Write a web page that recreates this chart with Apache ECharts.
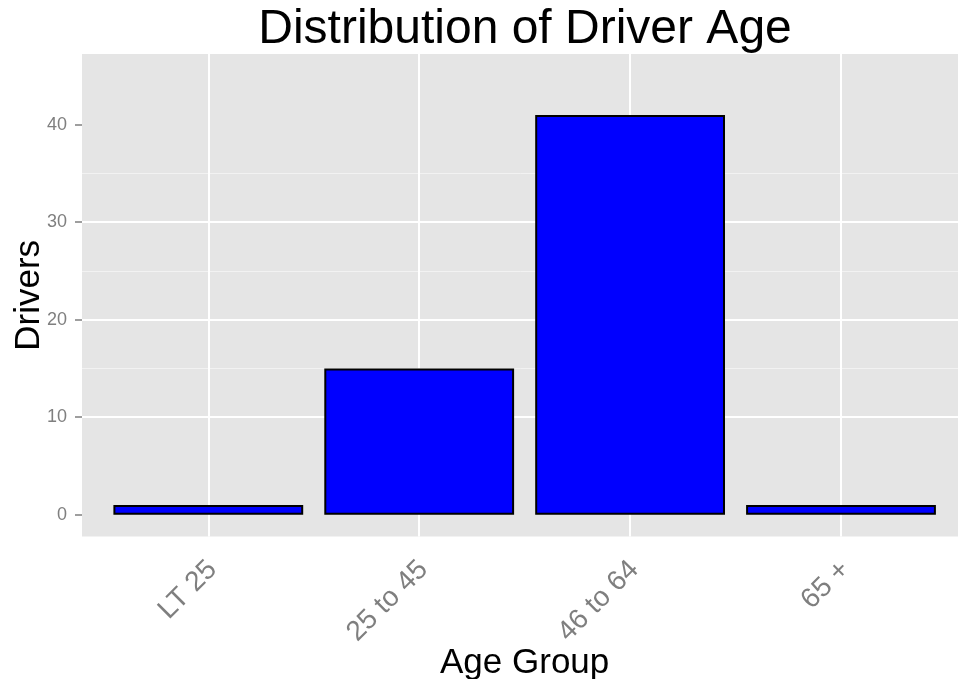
<!DOCTYPE html>
<html><head><meta charset="utf-8">
<script src="https://cdn.jsdelivr.net/npm/echarts@6/dist/echarts.min.js"></script>
<style>html,body{margin:0;padding:0;background:#fff}#c{width:958px;height:679px}</style>
</head><body><div id="c"></div>
<script>
const categories = ['LT 25', '25 to 45', '46 to 64', '65 +'];
const drivers = [1, 15, 41, 1];
const yMajorTicks = [0, 10, 20, 30, 40];
const yMinorTicks = [5, 15, 25, 35, 45];
const titleText = 'Distribution of Driver Age';
const xTitle = 'Age Group';
const yTitle = 'Drivers';

const FONT = "'Liberation Sans', Arial, sans-serif";
const Y_MIN = -2.25, Y_MAX = 47.25;
const chart = echarts.init(document.getElementById('c'), null, {renderer: 'canvas'});
chart.setOption({
  backgroundColor: '#ffffff',
  animation: false,
  textStyle: {fontFamily: FONT},
  graphic: [{
    type: 'text', x: 525, y: 6, z: 10,
    style: {text: titleText, fill: '#000', font: "48px 'Liberation Sans', Arial, sans-serif", textAlign: 'center', textVerticalAlign: 'top'}
  }],
  grid: [
    {left: 82, top: 54, width: 886, height: 482.6, show: true, backgroundColor: '#E5E5E5', borderWidth: 0, containLabel: false, outerBoundsMode: 'none'},
    {left: 102.85, top: 54, width: 843.6, height: 482.6, containLabel: false, outerBoundsMode: 'none'}
  ],
  xAxis: [
    {gridIndex: 0, type: 'value', min: 0, max: 1, show: false},
    {gridIndex: 1, type: 'category', data: categories,
      axisLine: {show: false},
      axisTick: {show: true, alignWithLabel: true, length: 7, lineStyle: {color: '#7F7F7F', width: 1.5}},
      axisLabel: {rotate: 45, fontSize: 28, color: '#7F7F7F', margin: 33, padding: [0, -6, 0, 0], fontFamily: FONT},
      splitLine: {show: false},
      name: xTitle, nameLocation: 'middle', nameGap: 109, nameMoveOverlap: false,
      nameTextStyle: {fontSize: 35, color: '#000', fontFamily: FONT}
    }
  ],
  yAxis: [
    {gridIndex: 0, type: 'value', min: Y_MIN, max: Y_MAX,
      axisLine: {show: false},
      axisTick: {show: true, length: 7, customValues: yMajorTicks, lineStyle: {color: '#7F7F7F', width: 1.5}},
      axisLabel: {customValues: yMajorTicks, color: '#7F7F7F', fontSize: 18, margin: 15, fontFamily: FONT},
      splitLine: {show: true, showMinLine: false, showMaxLine: false, lineStyle: {color: '#ffffff', width: 2}},
      name: yTitle, nameLocation: 'middle', nameGap: 35, nameMoveOverlap: false,
      nameTextStyle: {fontSize: 35, color: '#000', fontFamily: FONT}
    },
    {gridIndex: 0, type: 'value', min: Y_MIN, max: Y_MAX, position: 'left',
      axisLine: {show: false},
      axisTick: {show: false, customValues: yMinorTicks},
      axisLabel: {show: false, customValues: yMinorTicks},
      splitLine: {show: true, showMinLine: false, showMaxLine: false, lineStyle: {color: '#F2F2F2', width: 1}}
    },
    {gridIndex: 1, type: 'value', min: Y_MIN, max: Y_MAX, show: false}
  ],
  series: [{
    type: 'bar', xAxisIndex: 1, yAxisIndex: 2, data: drivers, barWidth: '90%', z: 3, silent: true,
    itemStyle: {color: '#0000FF', borderColor: '#000000', borderWidth: 2},
    markLine: {
      z: 1, silent: true, symbol: ['none', 'none'], label: {show: false},
      lineStyle: {color: '#ffffff', width: 2, type: 'solid'},
      emphasis: {disabled: true},
      data: categories.map(c => ({xAxis: c}))
    }
  }]
});
</script>
</body></html>
